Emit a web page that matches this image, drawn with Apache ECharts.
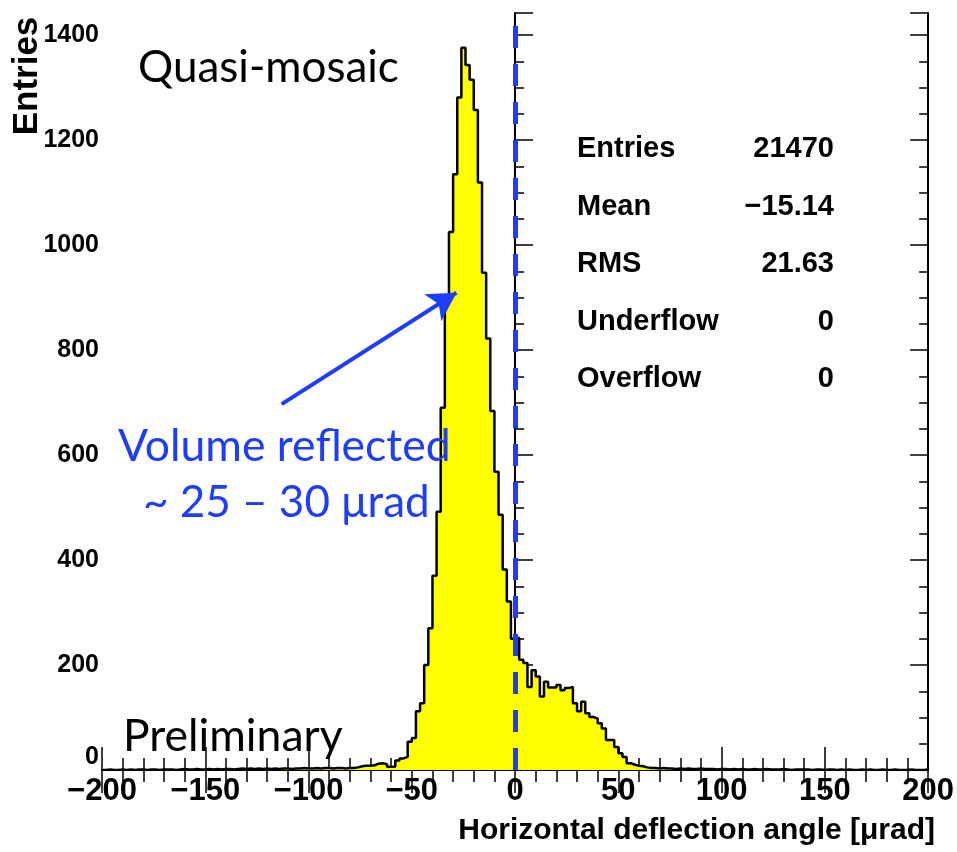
<!DOCTYPE html>
<html><head><meta charset="utf-8">
<script src="https://cdn.jsdelivr.net/npm/echarts@6/dist/echarts.min.js"></script>
<style>html,body{margin:0;padding:0;background:#fff}#c{width:957px;height:852px}</style>
</head><body><div id="c"></div>
<script>
// ---- data ----
const binLow = -200;      // lower edge of first bin (µrad)
const binWidth = 2;       // bin width (µrad)
const counts = [
  0,1,0,0,1,0,1,0,1,1,            // -200 .. -182
  0,1,1,0,1,1,1,0,1,2,            // -180 .. -162
  1,1,2,1,1,2,1,2,1,2,            // -160 .. -142
  2,1,2,3,2,3,2,3,2,3,            // -140 .. -122
  2,3,2,3,3,2,3,3,4,3,            // -120 .. -102
  3,4,3,4,4,3,4,4,3,4,            // -100 .. -82
  4,5,7,8,8,9,12,13,11,6,         // -80 .. -62
  6,18,22,25,54,61,112,127,200,270,        // -60 .. -42
  370,492,690,900,1025,1135,1281,1376,1343,1315, // -40 .. -22
  1257,1119,947,822,684,568,486,382,321,250,     // -20 .. -2
  252,210,204,158,190,178,140,168,157,157,       // 0 .. 18
  162,152,156,158,127,112,130,108,101,98,        // 20 .. 38
  89,79,57,57,44,32,25,13,10,8,                  // 40 .. 58
  7,5,4,4,3,4,3,3,2,3,            // 60 .. 78
  2,3,2,2,3,2,2,2,1,2,            // 80 .. 98
  2,1,2,1,2,1,1,2,1,1,            // 100 .. 118
  2,1,1,1,2,1,0,1,1,1,            // 120 .. 138
  1,0,1,1,0,1,1,0,1,0,            // 140 .. 158
  1,0,0,1,0,1,0,0,1,0,            // 160 .. 178
  0,1,0,0,0,1,0,0,0,1             // 180 .. 198
];
const xRange = [-200, 200];
const xInterval = 50;
const yRange = [0, 1442];
const yMajor = 200;
const yMinor = 50;
const statLabels = ['Entries', 'Mean', 'RMS', 'Underflow', 'Overflow'];
const statValues = ['21470', '\u221215.14', '21.63', '0', '0'];
const arrowFrom = [-113, 697];
const arrowTo = [-28.4, 909];
const markerX = 0;
const xTitle = 'Horizontal deflection angle [\u03bcrad]';
const yTitle = 'Entries';

// ---- build ----
const histData = counts.map((c, i) => [binLow + i * binWidth, c]);
histData.push([binLow + counts.length * binWidth, counts[counts.length - 1]]);

const BLUE = '#1f3dff';
const LAB = '"Liberation Sans", Arial, sans-serif';
const ANN = 'Lato, "Open Sans", sans-serif';

const chart = echarts.init(document.getElementById('c'), null, {renderer: 'canvas'});

function minus(v) { return String(v).replace('-', '\u2212'); }

const frameLine = {show: true, lineStyle: {color: '#000', width: 2}};

const option = {
  animation: false,
  backgroundColor: '#fff',
  grid: {left: 102, right: 23, top: 13, bottom: 82, containLabel: false},
  xAxis: [
    {
      type: 'value', position: 'bottom', min: xRange[0], max: xRange[1], interval: xInterval,
      axisLine: frameLine,
      axisTick: {show: true, inside: true, length: 23, lineStyle: {color: '#000', width: 1.5}},
      minorTick: {show: true, splitNumber: 5, length: 12, lineStyle: {color: '#000', width: 1.5}},
      splitLine: {show: false},
      axisLabel: {show: true, margin: 6, color: '#000', fontFamily: LAB, fontWeight: 'bold', fontSize: 31,
        formatter: v => minus(v)}
    },
    {
      type: 'value', position: 'top', min: xRange[0], max: xRange[1], interval: xInterval,
      axisLine: frameLine,
      axisTick: {show: true, inside: true, length: 23, lineStyle: {color: '#000', width: 1.5}},
      minorTick: {show: true, splitNumber: 5, length: 12, lineStyle: {color: '#000', width: 1.5}},
      splitLine: {show: false}, axisLabel: {show: false}
    }
  ],
  yAxis: [
    {
      type: 'value', position: 'left', min: yRange[0], max: yRange[1], interval: yMajor,
      axisLine: frameLine,
      axisTick: {show: true, inside: true, length: 18, lineStyle: {color: '#000', width: 1.5}},
      splitLine: {show: false},
      axisLabel: {show: true, margin: 3, color: '#000', fontFamily: LAB, fontWeight: 'bold', fontSize: 25,
        formatter: v => (v % yMajor === 0 ? (v === 0 ? '{z|0}' : String(v)) : ''),
        rich: {z: {fontFamily: LAB, fontWeight: 'bold', fontSize: 25, color: '#000', padding: [0, 0, 26, 0]}}}
    },
    {
      type: 'value', position: 'left', min: yRange[0], max: yRange[1], interval: yMinor,
      axisLine: {show: false},
      axisTick: {show: true, inside: true, length: 9, lineStyle: {color: '#000', width: 1.5}},
      splitLine: {show: false}, axisLabel: {show: false}
    },
    {
      type: 'value', position: 'right', min: yRange[0], max: yRange[1], interval: yMajor,
      axisLine: frameLine,
      axisTick: {show: true, inside: true, length: 18, lineStyle: {color: '#000', width: 1.5}},
      splitLine: {show: false}, axisLabel: {show: false}
    },
    {
      type: 'value', position: 'right', min: yRange[0], max: yRange[1], interval: yMinor,
      axisLine: {show: false},
      axisTick: {show: true, inside: true, length: 9, lineStyle: {color: '#000', width: 1.5}},
      splitLine: {show: false}, axisLabel: {show: false}
    }
  ],
  series: [
    {
      type: 'line', name: 'hist', xAxisIndex: 0, yAxisIndex: 0,
      data: histData, step: 'end', symbol: 'none', clip: true,
      lineStyle: {color: '#000', width: 2.5},
      areaStyle: {color: '#ffff00', opacity: 1},
      emphasis: {disabled: true},
      markLine: {
        silent: true, symbol: 'none', animation: false,
        label: {show: false},
        lineStyle: {color: BLUE, width: 5, type: [22, 16]},
        data: [{xAxis: markerX}],
        z: 10
      },
      z: 2
    },
    {
      type: 'line', name: 'arrow', xAxisIndex: 0, yAxisIndex: 0, data: [],
      markLine: {
        silent: true, animation: false,
        symbol: ['none', 'arrow'], symbolSize: [24, 28],
        label: {show: false},
        lineStyle: {color: BLUE, width: 4, type: 'solid'},
        data: [[{coord: arrowFrom}, {coord: arrowTo}]]
      },
      z: 11
    }
  ],
  graphic: [
    {type: 'text', x: 27, y: 76, rotation: Math.PI / 2, z: 100,
      style: {text: yTitle, font: 'bold 35px ' + LAB, fill: '#000', textAlign: 'center', textVerticalAlign: 'middle'}},
    {type: 'text', x: 935, y: 831, z: 100,
      style: {text: xTitle, font: 'bold 30px ' + LAB, fill: '#000', textAlign: 'right', textVerticalAlign: 'middle'}},
    {type: 'text', x: 138, y: 68, z: 100,
      style: {text: 'Quasi-mosaic', font: '44px ' + ANN, fill: '#000', textAlign: 'left', textVerticalAlign: 'middle'}},
    {type: 'text', x: 123, y: 737, z: 100,
      style: {text: 'Preliminary', font: '44.5px ' + ANN, fill: '#000', textAlign: 'left', textVerticalAlign: 'middle'}},
    {type: 'text', x: 118, y: 447, z: 100,
      style: {text: 'Volume reflected', font: '44.5px ' + ANN, fill: BLUE, textAlign: 'left', textVerticalAlign: 'middle'}},
    {type: 'text', x: 143, y: 503, z: 100,
      style: {text: '~ 25 \u2013 30 \u03bcrad', font: '44px ' + ANN, fill: BLUE, textAlign: 'left', textVerticalAlign: 'middle'}}
  ].concat(statLabels.map((t, i) => ({
      type: 'text', x: 577, y: 149 + i * 57.5, z: 100,
      style: {text: t, font: 'bold 29px ' + LAB, fill: '#000', textAlign: 'left', textVerticalAlign: 'middle'}
    }))).concat(statValues.map((t, i) => ({
      type: 'text', x: 834, y: 149 + i * 57.5, z: 100,
      style: {text: t, font: 'bold 29px ' + LAB, fill: '#000', textAlign: 'right', textVerticalAlign: 'middle'}
    })))
};
chart.setOption(option);
</script>
</body></html>
